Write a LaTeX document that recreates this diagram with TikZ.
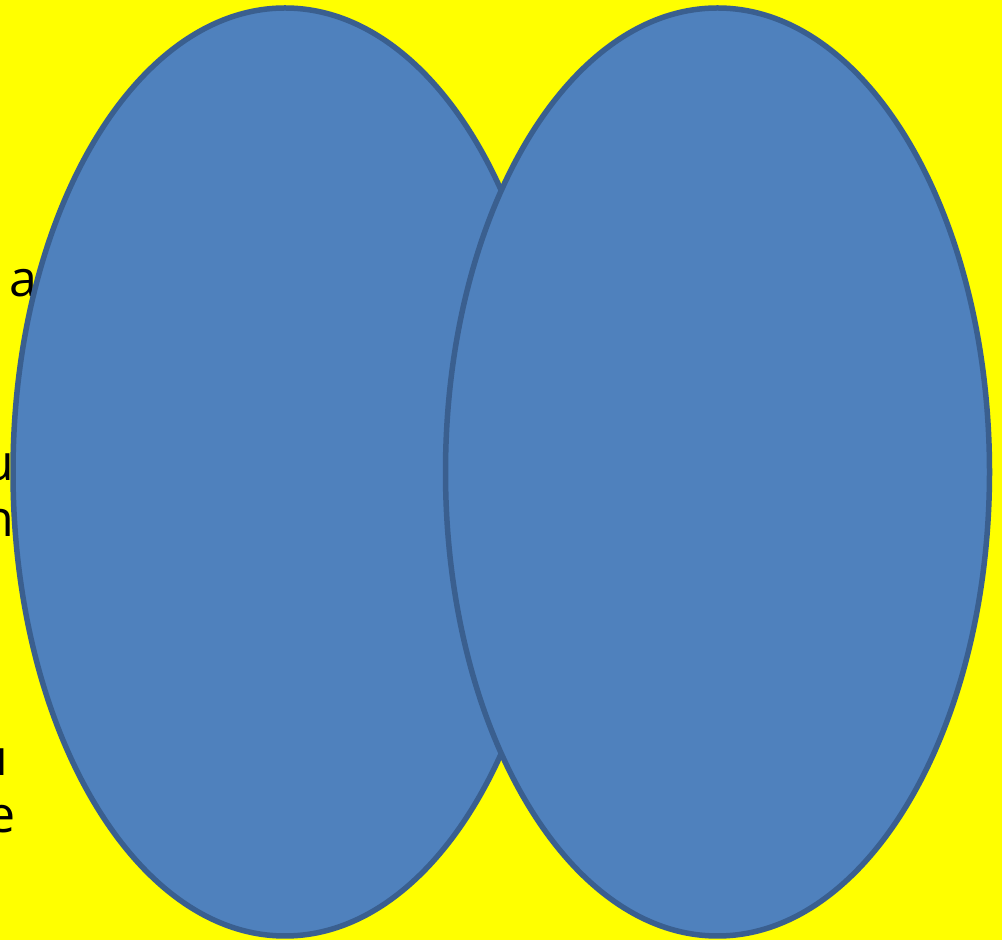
\documentclass[tikz,border=0pt]{standalone}
\usepackage{fontspec}
\setmainfont{Open Sans}
\usetikzlibrary{shapes.geometric}
\definecolor{bg}{HTML}{FFFF00}
\definecolor{ellfill}{HTML}{4F81BD}
\definecolor{ellline}{HTML}{3A5F8F}
\tikzset{
  frag/.style={inner sep=0pt, outer sep=0pt, font=\fontsize{50}{55}\selectfont, text=black},
  blob/.style={ellipse, draw=ellline, fill=ellfill, line width=5.5pt, inner sep=0pt,
    minimum width=544pt, minimum height=928pt}
}
\begin{document}
\begin{tikzpicture}[x=1pt,y=1pt]
\fill[bg] (0,0) rectangle (1002,940);
\useasboundingbox (0,0) rectangle (1002,940);
\begin{scope}
\clip (0,0) rectangle (1002,940);
\node[frag, anchor=base west] (t1) at (9.5,643) {a};
\node[frag, anchor=base east] (t2) at (14,459) {u};
\node[frag, anchor=base east] (t3) at (14.5,403) {n};
\node[frag, anchor=base east] (t4) at (8,164) {u};
\node[frag, anchor=base east] (t5) at (15.5,107) {e};
\node[blob] (left) at (285,468) {};
\node[blob] (right) at (717.5,468) {};
\end{scope}
\end{tikzpicture}
\end{document}
